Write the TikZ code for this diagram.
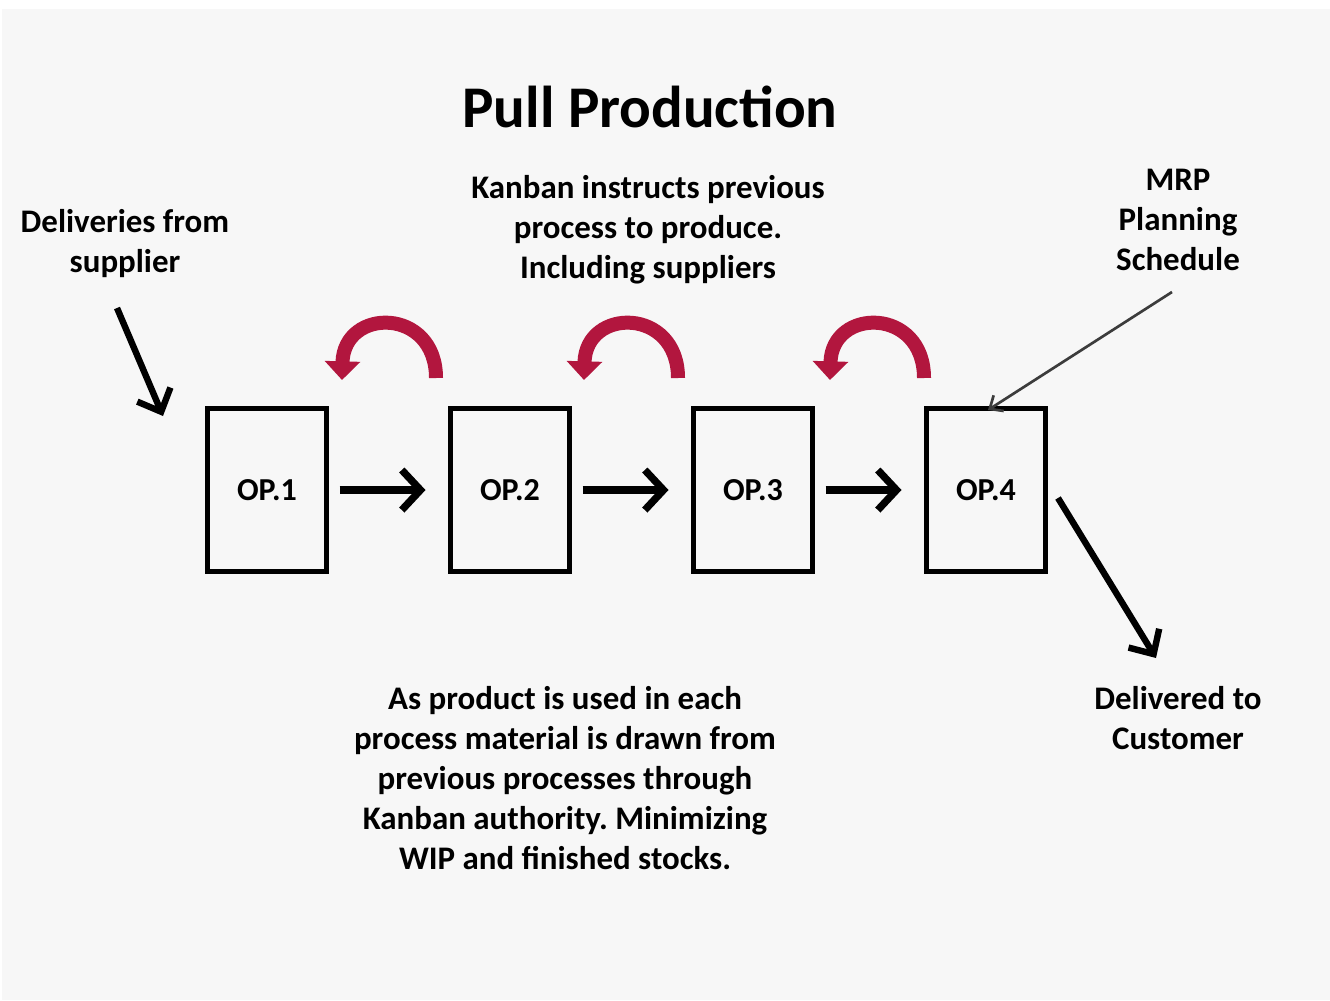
\documentclass[tikz,border=0pt]{standalone}
\usepackage{fontspec}
\setmainfont{Carlito}
\usetikzlibrary{arrows.meta}
\frenchspacing
\definecolor{paper}{RGB}{247,247,247}
\definecolor{kanbanred}{RGB}{178,22,62}
\definecolor{mrpgray}{RGB}{60,60,60}
\tikzset{
  opbox/.style={draw=black, line width=3.75pt, minimum width=89pt, minimum height=122pt,
    font=\bfseries\fontsize{24}{28}\selectfont, inner sep=0pt},
  note/.style={align=center, font=\bfseries\fontsize{24.7}{30}\selectfont, inner sep=0pt},
  flow/.style={line width=5.5pt, -{Straight Barb[length=14pt,width=30pt]}},
  feed/.style={line width=4.8pt, -{Straight Barb[length=14pt,width=27pt]}},
  plan/.style={draw=mrpgray, line width=2pt, -{Straight Barb[length=8pt,width=14pt]}},
  kanban/.style={draw=kanbanred, line width=10.5pt, -{Triangle[length=14pt,width=26pt]}},
}
\begin{document}
\begin{tikzpicture}[x=0.75pt,y=-0.75pt]
% page
\useasboundingbox (0,0) rectangle (1330,1000);
\fill[white] (0,0) rectangle (1330,1000);
\fill[paper] (2,9) rectangle (1330,1000);

% title
\node[font=\bfseries\fontsize{44.3}{50}\selectfont, inner sep=0pt] (title) at (650,107) {Pull Production};

% operations
\node[opbox] (op1) at (267,490) {OP.1};
\node[opbox] (op2) at (510,490) {OP.2};
\node[opbox] (op3) at (753,490) {OP.3};
\node[opbox] (op4) at (986,490) {OP.4};

% material flow
\draw[flow, shorten <=8pt, shorten >=17pt] (op1.east) -- (op2.west);
\draw[flow, shorten <=8pt, shorten >=17pt] (op2.east) -- (op3.west);
\draw[flow, shorten <=8pt, shorten >=17pt] (op3.east) -- (op4.west);

% notes
\node[note] (supplier) at (125,244) {Deliveries from\\supplier};
\node[note] (kanbantxt) at (648,230) {Kanban instructs previous\\process to produce.\\Including suppliers};
\node[note] (mrp) at (1178,220) {MRP\\Planning\\Schedule};
\node[note] (pulltxt) at (565,778) {As product is used in each\\process material is drawn from\\previous processes through\\Kanban authority. Minimizing\\WIP and finished stocks.};
\node[note] (customer) at (1178,718) {Delivered to\\Customer};

% incoming and outgoing
\coordinate (supIn) at (163,416);
\coordinate (custOut) at (1156,658);
\coordinate (mrpIn) at (988,410);
\draw[feed] (117,308) -- (supIn);
\draw[feed] (1058,498) -- (custOut);
\draw[plan] (1172,292) -- (mrpIn);

% kanban signals back to previous process
\foreach \c in {388, 630, 876}{
  \draw[kanban] (\c+48,378) .. controls (\c+48,307) and (\c-44,307) .. (\c-46,380);
}
\end{tikzpicture}
\end{document}
